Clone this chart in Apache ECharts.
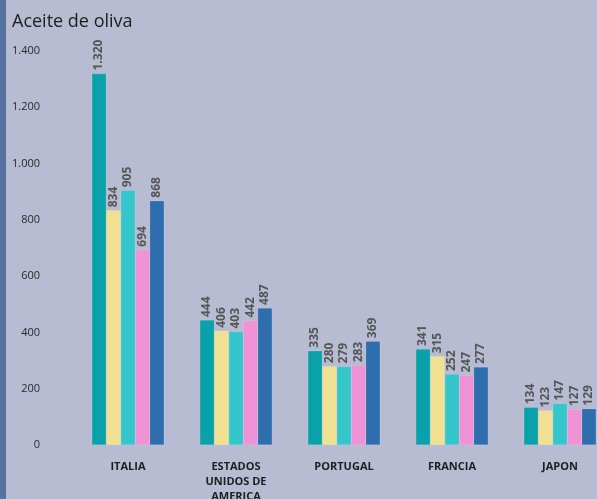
<!DOCTYPE html>
<html>
<head>
<meta charset="utf-8">
<script src="https://cdn.jsdelivr.net/npm/echarts@6/dist/echarts.min.js"></script>
<style>
  html, body { margin: 0; padding: 0; background: #b8bcd2; overflow: hidden; }
  #stripe { position: absolute; left: 0; top: 0; width: 6px; height: 499px; background: #56739f; }
  #chart { position: absolute; left: 0; top: 0; width: 597px; height: 499px; }
</style>
</head>
<body>
<div id="chart"></div>
<div id="stripe"></div>
<script>
// Aceite de oliva – five series per country
const paises = ['ITALIA', 'ESTADOS\nUNIDOS DE\nAMERICA', 'PORTUGAL', 'FRANCIA', 'JAPON'];
const serie1 = [1320, 444, 335, 341, 134];
const serie2 = [834, 406, 280, 315, 123];
const serie3 = [905, 403, 279, 252, 147];
const serie4 = [694, 442, 283, 247, 127];
const serie5 = [868, 487, 369, 277, 129];
const colores = ['#0aa2aa', '#efe092', '#35c6cc', '#ef92d6', '#2f6eae'];

const fmt = v => String(v).replace(/\B(?=(\d{3})+(?!\d))/g, '.');

const chart = echarts.init(document.getElementById('chart'));

const mkSerie = (name, data) => ({
  name: name,
  type: 'bar',
  data: data,
  barGap: '0%',
  barCategoryGap: '33%',
  itemStyle: { borderColor: 'rgba(255,255,255,0.25)', borderWidth: 0.5 },
  label: {
    show: true,
    position: 'top',
    rotate: 90,
    align: 'left',
    verticalAlign: 'middle',
    distance: 3,
    color: '#555555',
    fontFamily: 'Open Sans',
    fontWeight: 'bold',
    fontSize: 12,
    formatter: p => fmt(p.value),
  },
});

chart.setOption({
  backgroundColor: '#b8bcd2',
  color: colores,
  animation: false,
  title: {
    text: 'Aceite de oliva',
    left: 7,
    top: 8,
    textStyle: { fontFamily: 'Open Sans', fontSize: 18, fontWeight: 'normal', color: '#1e1e1e' },
  },
  grid: { left: 74, top: 51, width: 540, bottom: 54, containLabel: false, outerBoundsMode: 'none' },
  xAxis: {
    type: 'category',
    data: paises,
    axisLine: { show: false },
    axisTick: { show: false },
    axisLabel: {
      interval: 0,
      margin: 14,
      color: '#1e1e1e',
      fontFamily: 'Open Sans',
      fontWeight: 'bold',
      fontSize: 11,
      lineHeight: 15,
    },
  },
  yAxis: {
    type: 'value',
    min: 0,
    max: 1400,
    interval: 200,
    splitLine: { show: false },
    axisLine: { show: false },
    axisTick: { show: false },
    axisLabel: {
      margin: 34,
      color: '#2a2a2a',
      fontFamily: 'Open Sans',
      fontSize: 11,
      formatter: v => fmt(v),
    },
  },
  series: [
    mkSerie('Serie 1', serie1),
    mkSerie('Serie 2', serie2),
    mkSerie('Serie 3', serie3),
    mkSerie('Serie 4', serie4),
    mkSerie('Serie 5', serie5),
  ],
});
</script>
</body>
</html>
